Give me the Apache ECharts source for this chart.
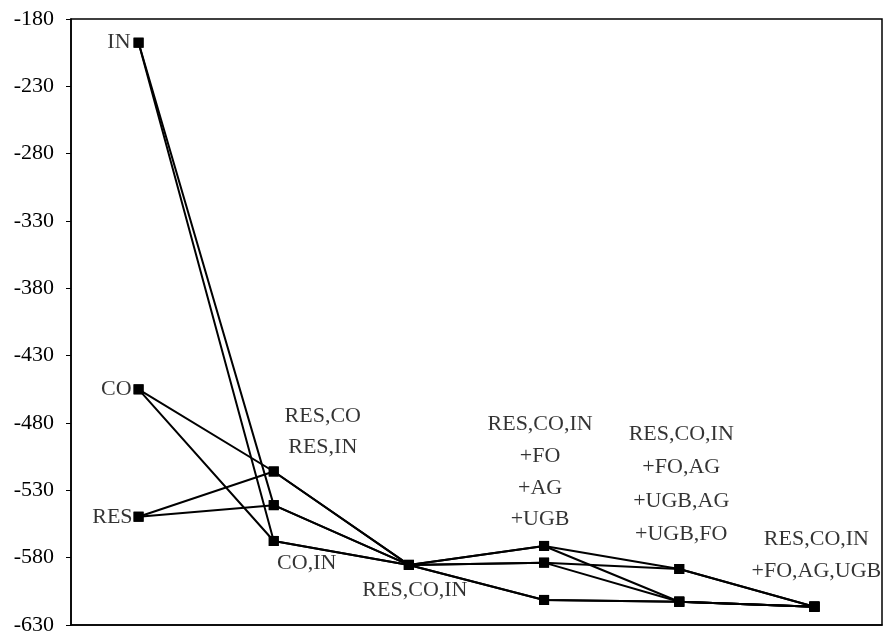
<!DOCTYPE html>
<html>
<head>
<meta charset="utf-8">
<script src="https://cdn.jsdelivr.net/npm/echarts@6/dist/echarts.min.js"></script>
<style>html,body{margin:0;padding:0;background:#fff}#c{width:889px;height:638px}</style>
</head>
<body>
<div id="c"></div>
<script>
// ---- data ----
const categories = ['1', '2', '3', '4', '5', '6'];
const nodeNames = ['IN', 'CO', 'RES', 'RES,CO', 'RES,IN', 'CO,IN', 'RES,CO,IN',
  '+FO', '+AG', '+UGB', '+FO,AG', '+UGB,AG', '+UGB,FO', '+FO,AG,UGB'];
const nodeColumn = [0, 0, 0, 1, 1, 1, 2, 3, 3, 3, 4, 4, 4, 5];
const nodeValues = [-197.6, -455, -549.6, -516, -541, -567.6, -585.4,
  -571.3, -583.7, -611.4, -588.4, -612.7, -612.7, -616.4];
// paths through the lattice (node indices)
const chains = [
  [0, 4, 6, 7, 10, 13],
  [0, 5, 6, 8, 10, 13],
  [1, 3, 6, 9, 11, 13],
  [1, 5, 6, 8, 11, 13],
  [2, 3, 6, 7, 12, 13],
  [2, 4, 6, 9, 12, 13]
];
const labelTexts = ['IN', 'CO', 'RES', 'RES,CO\nRES,IN', 'CO,IN', 'RES,CO,IN',
  'RES,CO,IN\n+FO\n+AG\n+UGB', 'RES,CO,IN\n+FO,AG\n+UGB,AG\n+UGB,FO', 'RES,CO,IN\n+FO,AG,UGB'];
const labelNodes = [0, 1, 2, 3, 5, 6, 7, 10, 13];
const yTicks = [-630, -180, 50]; // min, max, step

// ---- styles ----
const FONT = 'Liberation Serif';
const labelStyles = [
  { position: 'left', distance: 8 },
  { position: 'left', distance: 7 },
  { position: 'left', distance: 6 },
  { position: 'inside', offset: [49, -40], lineHeight: 31 },
  { position: 'inside', offset: [33, 22] },
  { position: 'inside', offset: [6, 25] },
  { position: 'inside', offset: [-4, -74], lineHeight: 31.7 },
  { position: 'inside', offset: [2, -85], lineHeight: 33.5 },
  { position: 'inside', offset: [2, -51], lineHeight: 32 }
];

const lineSeries = chains.map(ch => ({
  type: 'line',
  data: ch.map(n => [nodeColumn[n], nodeValues[n]]),
  symbol: 'rect',
  symbolSize: 10,
  lineStyle: { color: '#000', width: 2 },
  itemStyle: { color: '#000' },
  silent: true,
  z: 2
}));

const labelSeries = {
  type: 'scatter',
  symbolSize: 0,
  silent: true,
  z: 5,
  itemStyle: { color: '#000' },
  data: labelNodes.map((n, i) => ({
    value: [nodeColumn[n], nodeValues[n]],
    label: Object.assign({
      show: true,
      formatter: labelTexts[i],
      color: '#000',
      textBorderWidth: 0,
      fontFamily: FONT,
      fontSize: 22,
      lineHeight: 31.5,
      align: 'center',
      verticalAlign: 'middle'
    }, labelStyles[i].position === 'left' ? { align: 'right' } : {}, labelStyles[i])
  }))
};

const chart = echarts.init(document.getElementById('c'), null, { renderer: 'canvas' });
chart.setOption({
  animation: false,
  backgroundColor: '#fff',
  grid: { left: 71, right: 7, top: 19, bottom: 13, show: true, borderColor: '#000', borderWidth: 1.5 },
  xAxis: {
    type: 'category',
    data: categories,
    boundaryGap: true,
    axisLine: { lineStyle: { color: '#000', width: 1.5 } },
    axisTick: { show: false },
    axisLabel: { show: false },
    splitLine: { show: false }
  },
  yAxis: {
    type: 'value',
    min: yTicks[0],
    max: yTicks[1],
    interval: yTicks[2],
    axisLine: { show: true, lineStyle: { color: '#000', width: 1.5 } },
    axisTick: { show: true, length: 5, lineStyle: { color: '#000' } },
    axisLabel: { color: '#000', fontFamily: FONT, fontSize: 22, margin: 17 },
    splitLine: { show: false }
  },
  series: lineSeries.concat([labelSeries])
});
</script>
</body>
</html>
